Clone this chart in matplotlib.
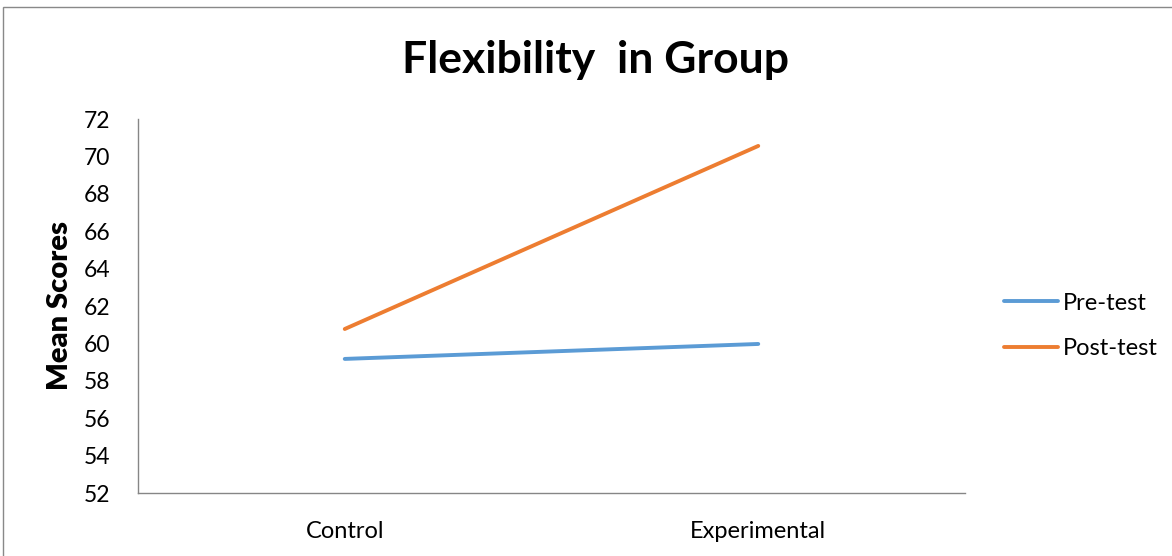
import matplotlib
matplotlib.use("Agg")
from matplotlib import pyplot as plt
from matplotlib.patches import Rectangle

groups = ['Control', 'Experimental']
pre_test = [59.17, 59.97]
post_test = [60.77, 70.56]
y_ticks = [52, 54, 56, 58, 60, 62, 64, 66, 68, 70, 72]

plt.rcParams['font.family'] = ['Lato', 'DejaVu Sans']

W, H = 1172, 556
fig = plt.figure(figsize=(W / 100, H / 100), dpi=100)

# chart frame (cut off on the right and bottom)
fig.patches.append(Rectangle((3 / W, -0.1), 1.2, 1 - 7 / H + 0.1, transform=fig.transFigure,
                             fill=False, edgecolor='#898989', linewidth=1.0))

ax = fig.add_axes([138 / W, 63 / H, (965 - 138) / W, (493 - 119) / H])
x = range(len(groups))
ax.plot(x, pre_test, color='#5B9BD5', linewidth=2.8, solid_capstyle='round', label='Pre-test')
ax.plot(x, post_test, color='#ED7D31', linewidth=2.8, solid_capstyle='round', label='Post-test')

ax.set_xlim(-0.5, 1.5)
ax.set_ylim(52, 72)
ax.set_yticks(y_ticks)
ax.set_xticks(list(x))
ax.set_xticklabels(groups)
ax.tick_params(axis='both', length=0, colors='black')
ax.tick_params(axis='y', pad=20, labelsize=16.5)
ax.tick_params(axis='x', pad=20, labelsize=17)

for side in ['top', 'right']:
    ax.spines[side].set_visible(False)
for side in ['left', 'bottom']:
    ax.spines[side].set_color('#868686')
    ax.spines[side].set_linewidth(1.0)

ax.set_ylabel('Mean Scores', fontsize=21, fontweight='heavy', va='center')
ax.yaxis.set_label_coords(-(138 - 60) / (965 - 138), 0.5)

fig.text(0.508, 1 - 60 / H, 'Flexibility  in Group', ha='center', va='center',
         fontsize=32, fontweight='bold')

ax.legend(loc='center left', bbox_to_anchor=(1004 / W, 1 - 326 / H), bbox_transform=fig.transFigure,
          frameon=False, fontsize=17, handlelength=2.3, handletextpad=0.2, labelspacing=1.05,
          borderaxespad=0, borderpad=0)

fig.savefig('out.png', dpi=100)
